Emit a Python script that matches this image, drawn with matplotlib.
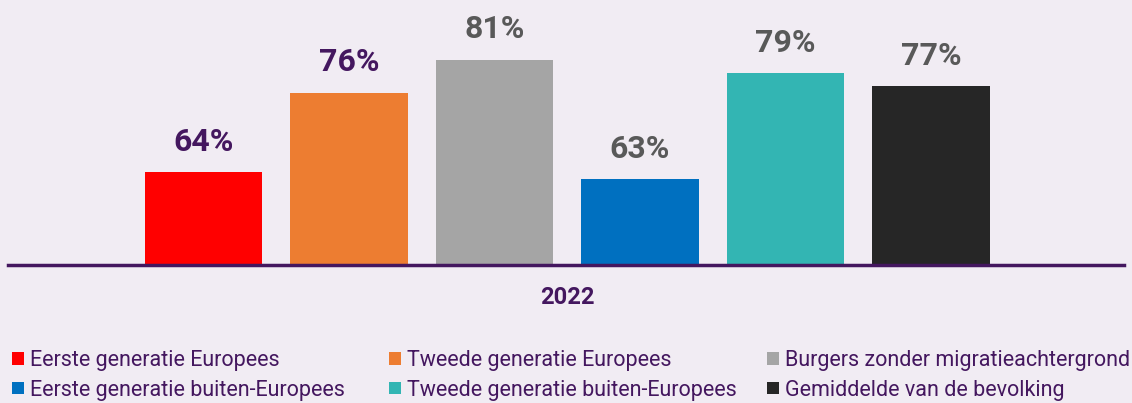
import matplotlib.pyplot as plt
from matplotlib.patches import Patch

plt.rcParams['font.family'] = ['Roboto', 'DejaVu Sans']

# data
categories = ['Eerste generatie Europees', 'Tweede generatie Europees',
              'Burgers zonder migratieachtergrond', 'Eerste generatie buiten-Europees',
              'Tweede generatie buiten-Europees', 'Gemiddelde van de bevolking']
values = [64, 76, 81, 63, 79, 77]
year_label = '2022'
colors = ['#ff0000', '#ed7d31', '#a5a5a5', '#0070c0', '#33b5b3', '#262626']
label_colors = ['#44175f', '#44175f', '#595959', '#595959', '#595959', '#595959']

bg = '#f1ecf3'
purple = '#44175f'

fig = plt.figure(figsize=(11.32, 4.03), dpi=100, facecolor=bg)
ax = fig.add_axes([8 / 1132, (403 - 265) / 403, 1116 / 1132, 265 / 403])
ax.set_facecolor(bg)

x = list(range(len(values)))
ax.bar(x, values, width=0.81, color=colors, zorder=2)

for xi, v, c in zip(x, values, label_colors):
    ax.annotate(f'{v}%', (xi, v), xytext=(0, 11), textcoords='offset points',
                ha='center', va='bottom', fontsize=23, fontweight='bold', color=c)

ax.set_ylim(50, 90)
ax.set_xlim(-1.344, 6.326)

for s in ['top', 'right', 'left']:
    ax.spines[s].set_visible(False)
ax.spines['bottom'].set_color(purple)
ax.spines['bottom'].set_linewidth(2.5)
ax.set_yticks([])
ax.set_xticks([2.5])
ax.set_xticklabels([year_label], fontsize=17, fontweight='bold', color=purple)
ax.tick_params(axis='x', length=0, pad=15)

# legend in three fixed-width columns
handles = [Patch(facecolor=c, edgecolor='none') for c in colors]
col_x = [12 / 1132, 389 / 1132, 767 / 1132]
for i, cx in enumerate(col_x):
    idx = [i, i + 3]
    leg = fig.legend([handles[j] for j in idx], [categories[j] for j in idx],
                     loc='upper left', bbox_to_anchor=(cx, 1 - 350 / 403),
                     frameon=False, fontsize=15.5, handlelength=0.55, handleheight=0.55,
                     handletextpad=0.3, labelspacing=0.4, borderpad=0, borderaxespad=0)
    for t in leg.get_texts():
        t.set_color(purple)

fig.savefig('out.png', dpi=100, facecolor=bg)
